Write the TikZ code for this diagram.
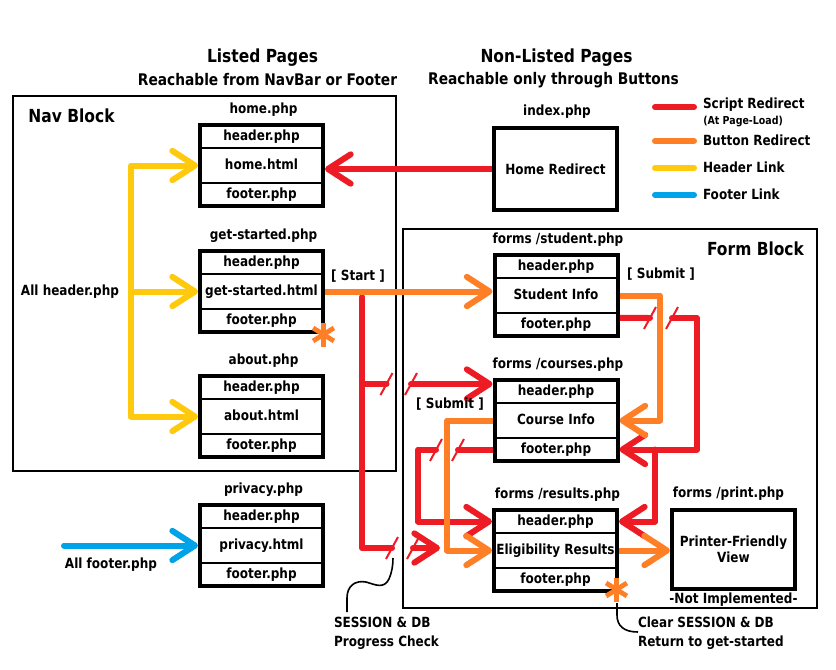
\documentclass[tikz,border=0pt]{standalone}
\usepackage{fontspec}
\setmainfont{DejaVu Sans}[FakeStretch=0.86]
\usetikzlibrary{arrows.meta,fit}
\pgfdeclarelayer{bg}
\pgfsetlayers{bg,main}
\definecolor{pred}{HTML}{ED1C24}
\definecolor{porange}{HTML}{FF7F27}
\definecolor{pyellow}{HTML}{FFC90E}
\definecolor{pblue}{HTML}{00A2E8}
\newcommand\mkpage[7]{%
  \node[hrow] (#1H) at (#2,#3+13.5) {#4};
  \node[mrow] (#1M) at (#2,#3+42.5) {#5};
  \node[hrow] (#1F) at (#2,#3+71.5) {#6};
  \node[pagebox, fit=(#1H)(#1F)] (#1) {};
  \node[txt] (#1L) at (#2+2,#3-13) {#7};
}
\newcommand\brkmark[1]{\draw[slash] ([shift={(-6,11)}]#1) -- ([shift={(6,-11)}]#1);}
\newcommand\astmark[1]{%
  \draw[ast] ([shift={(0,-12)}]#1) -- ([shift={(0,12)}]#1);
  \draw[ast] ([shift={(-10.4,-6.5)}]#1) -- ([shift={(10.4,6.5)}]#1);
  \draw[ast] ([shift={(-10.4,6.5)}]#1) -- ([shift={(10.4,-6.5)}]#1);}
\begin{document}
\begin{tikzpicture}[x=0.75pt,y=-0.75pt,
 txt/.style={font=\bfseries\fontsize{10.5}{12.5}\selectfont, inner sep=0pt, outer sep=0pt},
 ttl/.style={font=\bfseries\fontsize{13.5}{16}\selectfont, inner sep=0pt},
 sub/.style={font=\bfseries\fontsize{12}{14}\selectfont, inner sep=0pt},
 small/.style={font=\bfseries\fontsize{8.25}{10}\selectfont, inner sep=0pt},
 row/.style={draw, line width=1.5pt, minimum width=92.25pt, inner sep=0pt, outer sep=0pt,
   font=\bfseries\fontsize{10.5}{12.5}\selectfont, text height=7.7pt, text depth=2.1pt},
 hrow/.style={row, minimum height=17.25pt},
 mrow/.style={row, minimum height=26.25pt},
 pagebox/.style={draw, line width=3pt, inner sep=0pt},
 bigbox/.style={draw, line width=3pt, minimum width=92.25pt, inner sep=0pt, align=center,
   font=\bfseries\fontsize{10.5}{11.6}\selectfont},
 block/.style={draw, line width=1.6pt},
 conn/.style={line width=4.5pt, line cap=round, line join=round},
 rl/.style={conn, draw=pred}, ol/.style={conn, draw=porange},
 yl/.style={conn, draw=pyellow}, bl/.style={conn, draw=pblue},
 arr/.style={-{Straight Barb[length=17pt,width=22pt,round]}},
 slash/.style={draw=pred, line width=1.5pt},
 callout/.style={draw=black, line width=1.2pt},
 ast/.style={draw=porange, line width=3.6pt}
]
\useasboundingbox (0,0) rectangle (836,669);

% titles
\node[ttl] (t1) at (262.5,58) {Listed Pages};
\node[sub] (t1b) at (267.5,80) {Reachable from NavBar or Footer};
\node[ttl] (t2) at (556.5,58) {Non-Listed Pages};
\node[sub] (t2b) at (553.5,80) {Reachable only through Buttons};
\node[ttl] (navt) at (71.5,116) {Nav Block};
\node[ttl] (formt) at (755.5,249) {Form Block};

% pages
\mkpage{home}{261.5}{123}{header.php}{home.html}{footer.php}{home.php}
\mkpage{gs}{261.5}{249}{header.php}{get-started.html}{footer.php}{get-started.php}
\mkpage{about}{261.5}{374}{header.php}{about.html}{footer.php}{about.php}
\mkpage{privacy}{261.5}{503}{header.php}{privacy.html}{footer.php}{privacy.php}
\mkpage{student}{556}{253}{header.php}{Student Info}{footer.php}{forms /student.php}
\mkpage{courses}{556}{378}{header.php}{Course Info}{footer.php}{forms /courses.php}
\mkpage{results}{555.5}{508}{header.php}{Eligibility Results}{footer.php}{forms /results.php}

\node[bigbox, minimum height=61.5pt] (index) at (555.5,169) {Home Redirect};
\node[txt] (indexL) at (557,112) {index.php};
\node[bigbox, minimum height=59.25pt] (print) at (733.5,549.5) {Printer-Friendly\\View};
\node[txt] (printL) at (728.5,494) {forms /print.php};
\node[txt] (notimpl) at (733.5,600) {-Not Implemented-};

% labels
\node[txt] (allh) at (70,292) {All header.php};
\node[txt] (allf) at (111,565) {All footer.php};
\node[txt] (startL) at (358,276) {[ Start ]};
\node[txt] (sub1) at (661,274) {[ Submit ]};
\node[txt] (sub2) at (450,404) {[ Submit ]};
\node[txt, anchor=west, align=left, font=\bfseries\fontsize{10.5}{14.25}\selectfont] (sessnote) at (334,633) {SESSION \& DB\\Progress Check};
\node[txt, anchor=west, align=left, font=\bfseries\fontsize{10.5}{14.25}\selectfont] (clearnote) at (638,633) {Clear SESSION \& DB\\Return to get-started};

% legend
\node[txt, anchor=west] (lg1) at (703,105) {Script Redirect};
\node[small, anchor=west] (lg1b) at (703,121) {(At Page-Load)};
\node[txt, anchor=west] (lg2) at (703,140) {Button Redirect};
\node[txt, anchor=west] (lg3) at (703,167) {Header Link};
\node[txt, anchor=west] (lg4) at (703,194) {Footer Link};

\begin{pgfonlayer}{bg}
\fill[white] (0,0) rectangle (836,669);
\draw[block] (13,96) rectangle (396,471);
\draw[block] (403,229) rectangle (817,608);

\draw[rl] (655,107) -- (694,107);
\draw[ol] (655,141) -- (694,141);
\draw[yl] (655,168) -- (694,168);
\draw[bl] (655,195) -- (694,195);

% yellow header links
\coordinate (ybus) at (131,0);
\draw[yl, arr] (ybus |- aboutM) -- (ybus |- homeM) -- (home.west |- homeM);
\draw[yl, arr] (ybus |- gsM) -- (gs.west |- gsM);
\draw[yl, arr] (ybus |- aboutM) -- (about.west |- aboutM);

% blue footer link
\coordinate (fstart) at (64,0);
\draw[bl, arr] (fstart |- privacyM) -- (privacy.west |- privacyM);

% index redirect
\draw[rl, arr] (index.west) -- (home.east |- index.west);

% progress check
\coordinate (rtop) at (362,297);
\coordinate (rmidA) at (386.5,384);
\coordinate (rmidB) at (411,384);
\coordinate (rbotA) at (392,548);
\coordinate (rbotB) at (413,548);
\coordinate (rbotE) at (440,548);
\draw[rl] (rtop) -- (rtop |- rbotA) -- (rbotA);
\draw[rl, arr] (rbotB) -- (rbotE);
\draw[rl] (rtop |- rmidA) -- (rmidA);
\draw[rl, arr] (rmidB) -- (courses.west |- rmidB);
\brkmark{rmidA}
\brkmark{rmidB}
\brkmark{rbotA}
\brkmark{rbotB}

% start button
\draw[ol, arr] (gs.east |- gsM) -- (student.west |- gsM);

% student footer redirect
\coordinate (sfo) at ([yshift=5pt]student.east |- studentF);
\coordinate (brkA) at (650,318);
\coordinate (brkB) at (672,318);
\coordinate (rx) at (697,318);
\coordinate (rx2) at (655,0);
\draw[rl] (sfo) -- (brkA);
\draw[rl, arr] (brkB) -- (rx) -- (rx |- coursesF) -- (courses.east |- coursesF);
\draw[rl, arr] (rx2 |- coursesF) -- (rx2 |- resultsH) -- (results.east |- resultsH);
\brkmark{brkA}
\brkmark{brkB}

% student submit
\coordinate (ox) at (660,0);
\draw[ol, arr] (student.east |- studentM) -- (ox |- studentM) -- (ox |- coursesM) -- (courses.east |- coursesM);

% courses footer redirect
\coordinate (brkC) at (458,450);
\coordinate (brkD) at (436,450);
\coordinate (rx3) at (418,0);
\draw[rl] (courses.west |- coursesF) -- (brkC |- coursesF);
\draw[rl, arr] (brkD |- coursesF) -- (rx3 |- coursesF) -- (rx3 |- resultsH) -- (results.west |- resultsH);
\brkmark{brkC}
\brkmark{brkD}

% courses submit
\coordinate (ox2) at (447,0);
\draw[ol, arr] (courses.west |- coursesM) -- (ox2 |- coursesM) -- (ox2 |- resultsM) -- (results.west |- resultsM);

% print
\draw[ol, arr] (results.east |- resultsM) -- (print.west |- resultsM);

% callouts
\coordinate (c1a) at (347,612);
\coordinate (c1b) at (393,558);
\draw[callout] (c1a) -- (347,598) .. controls (347,586) and (355,580) .. (366,582)
  .. controls (376,585) and (384,589) .. (389,579) .. controls (392,572) and (393,565) .. (c1b);
\coordinate (c2a) at (617,603);
\draw[callout] (c2a) -- (617,615) .. controls (617,626) and (624,632) .. (clearnote.west |- 0,632);
\end{pgfonlayer}

% asterisks
\coordinate (ast1) at (323.5,334.5);
\coordinate (ast2) at (616.5,589.5);
\astmark{ast1}
\astmark{ast2}
\end{tikzpicture}
\end{document}
